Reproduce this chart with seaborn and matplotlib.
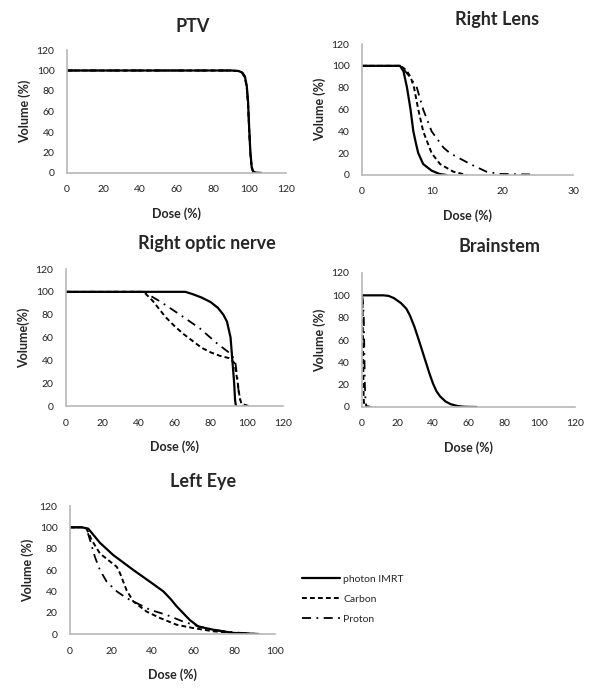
import matplotlib
matplotlib.use('Agg')
import matplotlib.pyplot as plt
import seaborn as sns
import pandas as pd

sns.set_style('white')
plt.rcParams['font.family'] = ['Lato', 'DejaVu Sans']

# PTV
ptv_dose = [0, 90, 94, 96, 97.5, 98.5, 99.2, 99.8, 100.5, 101.2, 102, 103.5, 106.5]
ptv_photon = [100, 100, 99.5, 98, 94, 85, 70, 45, 20, 6, 1.5, 0.3, 0]
ptv_carbon = [100, 100, 99.5, 97.5, 93, 83, 67, 42, 18, 5, 1.2, 0.2, 0]
ptv_proton = [100, 100, 99.5, 98, 94, 84, 68, 44, 19, 5.5, 1.3, 0.3, 0]

# Right Lens
lens_photon_x = [0, 5.4, 5.9, 6.4, 6.9, 7.3, 7.7, 8.0, 8.7, 9.9, 11, 12]
lens_photon_y = [100, 100, 95, 80, 60, 40, 28, 20, 10, 4, 1, 0]
lens_carbon_x = [0, 5.5, 6.3, 6.9, 7.4, 8.0, 8.7, 9.9, 11.1, 13, 14.9]
lens_carbon_y = [100, 100, 96, 90, 80, 60, 40, 20, 10, 3, 0]
lens_proton_x = [0, 5.5, 6.8, 7.8, 8.7, 9.9, 11.6, 12.5, 15.4, 17.7, 19.6, 23.9]
lens_proton_y = [100, 100, 90, 80, 60, 40, 25, 20, 10, 3, 1, 0.5]

# Right optic nerve
on_photon_x = [0, 66, 70, 75, 80, 84, 87, 89, 91, 92, 93, 93.5, 94]
on_photon_y = [100, 100, 98, 95, 91, 86, 80, 74, 60, 40, 20, 5, 0]
on_carbon_x = [0, 43, 48, 55, 60, 65, 70, 75, 80, 85, 90, 93, 94, 95, 96, 97, 100, 101]
on_carbon_y = [100, 100, 92, 78, 70, 63, 57, 51, 47, 44, 42, 38, 30, 20, 8, 2, 0.5, 0]
on_proton_x = [0, 43, 52, 63, 74, 83.4, 90.8, 93.5, 94.5, 95.5, 96.5, 98]
on_proton_y = [100, 100, 91.6, 80, 68, 55, 46, 40, 28, 12, 3, 0]

# Brainstem
bs_photon_x = [0, 12, 15, 18, 22, 25, 27, 29.5, 32, 34, 36, 38, 40, 42, 44, 47, 50, 54, 58, 64.5]
bs_photon_y = [100, 100, 99.5, 97.5, 93, 88, 82, 72, 60, 50, 40, 30, 21, 14, 9.5, 5, 2.5, 0.8, 0.2, 0]
bs_carbon_x = [0, 0.3, 0.6, 0.9, 1.2, 3, 5]
bs_carbon_y = [100, 90, 50, 10, 1, 0.5, 0]
bs_proton_x = [0, 0.5, 1.0, 1.3, 1.6, 2.0, 2.5, 5]
bs_proton_y = [100, 95, 80, 50, 20, 5, 0.5, 0]

# Left Eye
eye_photon_x = [0, 5.7, 8.9, 14.6, 21.1, 30.9, 39, 45.5, 49, 52, 58.5, 62.6, 69.9, 79.7, 91.9]
eye_photon_y = [100, 100, 98.8, 85.5, 74, 60, 49, 40, 33, 26, 13, 7, 4, 1, 0]
eye_carbon_x = [0, 5.7, 8, 10.6, 14.6, 19.5, 22.8, 24.4, 27.6, 30.9, 37.4, 43.9, 52, 60, 70, 80, 91]
eye_carbon_y = [100, 100, 99, 88, 75.5, 68, 63, 57, 41, 30.5, 21, 15, 8.7, 5.6, 2.5, 1, 0]
eye_proton_x = [0, 5.7, 8, 9.8, 12.2, 14.6, 17.9, 22.8, 27.6, 32.5, 39, 47, 55, 63, 71.5, 80, 89]
eye_proton_y = [100, 100, 99, 88, 72, 60, 49, 40, 33.6, 29, 22.7, 18, 11.8, 7, 3.4, 1.5, 0.3]

labels = ['photon IMRT', 'Carbon', 'Proton']
styles = {'photon IMRT': dict(linestyle='-', linewidth=1.6),
          'Carbon': dict(linestyle=(0, (2.5, 1.6)), linewidth=1.4),
          'Proton': dict(linestyle=(0, (5, 3, 1, 3)), linewidth=1.3)}

panels = [
    dict(title='PTV', ylabel='Volume (%)', xmax=120, xstep=20,
         rect=[67, 50, 286, 173], tpos=(193, 27),
         series=[(ptv_dose, ptv_photon), (ptv_dose, ptv_carbon), (ptv_dose, ptv_proton)]),
    dict(title='Right Lens', ylabel='Volume (%)', xmax=30, xstep=10,
         rect=[362, 44, 573, 175], tpos=(497, 19),
         series=[(lens_photon_x, lens_photon_y), (lens_carbon_x, lens_carbon_y), (lens_proton_x, lens_proton_y)]),
    dict(title='Right optic nerve', ylabel='Volume(%)', xmax=120, xstep=20,
         rect=[66, 269, 283, 406], tpos=(207, 243),
         series=[(on_photon_x, on_photon_y), (on_carbon_x, on_carbon_y), (on_proton_x, on_proton_y)]),
    dict(title='Brainstem', ylabel='Volume (%)', xmax=120, xstep=20,
         rect=[362, 273, 575, 407], tpos=(500, 247),
         series=[(bs_photon_x, bs_photon_y), (bs_carbon_x, bs_carbon_y), (bs_proton_x, bs_proton_y)]),
    dict(title='Left Eye', ylabel='Volume (%)', xmax=100, xstep=20,
         rect=[70, 506, 275, 634], tpos=(203, 482),
         series=[(eye_photon_x, eye_photon_y), (eye_carbon_x, eye_carbon_y), (eye_proton_x, eye_proton_y)]),
]

W, H = 600, 696
fig = plt.figure(figsize=(W / 100, H / 100), dpi=100)

for p in panels:
    l, t, r, b = p['rect']
    ax = fig.add_axes([l / W, 1 - b / H, (r - l) / W, (b - t) / H])
    for lab, (xs, ys) in zip(labels, p['series']):
        df = pd.DataFrame({'dose': xs, 'vol': ys})
        sns.lineplot(data=df, x='dose', y='vol', ax=ax, color='black',
                     estimator=None, sort=False, label=lab, **styles[lab])
    ax.set_xlim(0, p['xmax'])
    ax.set_ylim(0, 120)
    ax.set_xticks(range(0, p['xmax'] + 1, p['xstep']))
    ax.set_yticks(range(0, 121, 20))
    ax.tick_params(length=0, labelsize=7.5, pad=9, colors='#222222')
    ax.set_xlabel('Dose (%)', fontsize=9, fontweight='bold', labelpad=9)
    ax.set_ylabel(p['ylabel'], fontsize=9, fontweight='bold', labelpad=4)
    for s in ['top', 'right']:
        ax.spines[s].set_visible(False)
    for s in ['left', 'bottom']:
        ax.spines[s].set_color('#b8b8b8')
        ax.spines[s].set_linewidth(1.2)
    ax.get_legend().remove()
    fig.text(p['tpos'][0] / W, 1 - p['tpos'][1] / H, p['title'], fontsize=13,
             fontweight='bold', ha='center', va='center')
    last_ax = ax

handles, labs = last_ax.get_legend_handles_labels()
fig.legend(handles, labs, loc='upper left', bbox_to_anchor=(293 / W, 1 - 565 / H),
           frameon=False, fontsize=7.5, handlelength=3.6, handletextpad=0.3,
           labelspacing=1.05)

fig.savefig('out.png', dpi=100)
